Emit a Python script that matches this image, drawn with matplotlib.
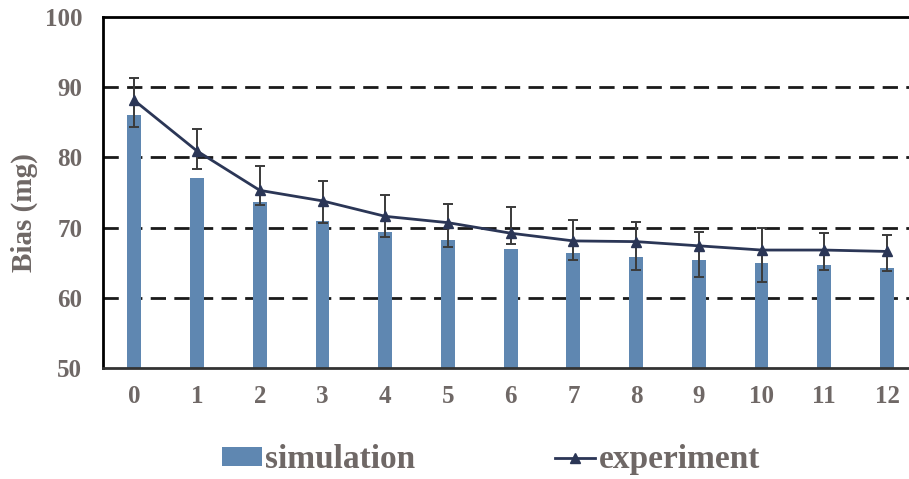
import matplotlib.pyplot as plt
import numpy as np

# data
steps = ['0', '1', '2', '3', '4', '5', '6', '7', '8', '9', '10', '11', '12']
simulation = [86.0, 77.1, 73.7, 71.0, 69.4, 68.2, 66.9, 66.4, 65.8, 65.4, 64.9, 64.6, 64.3]
experiment = [88.1, 80.9, 75.3, 73.8, 71.6, 70.7, 69.2, 68.1, 68.0, 67.4, 66.8, 66.8, 66.6]
err_up = [3.2, 3.2, 3.4, 2.8, 3.1, 2.7, 3.8, 3.0, 2.8, 1.9, 3.1, 2.4, 2.3]
err_down = [3.8, 2.5, 2.1, 3.2, 2.9, 3.4, 1.6, 2.7, 4.0, 4.4, 4.5, 2.8, 2.8]

bar_color = '#5f87b1'
line_color = '#2b3656'
text_color = '#6f6866'
font = 'Liberation Serif'

fig = plt.figure(figsize=(9.09, 4.79), dpi=100)
ax = fig.add_axes([0.1133, 0.2317, 0.897, 0.733])

x = np.arange(len(steps))

# grid lines
for g in [60, 70, 80, 90]:
    ax.axhline(g, color='#1a1a1a', lw=2, linestyle=(0, (5.5, 3)), zorder=1)

ax.bar(x, simulation, width=0.22, color=bar_color, zorder=2, label='simulation')
ax.errorbar(x, experiment, yerr=[err_down, err_up], fmt='none', ecolor='#3a3a3a',
            elinewidth=1.4, capsize=3.6, capthick=1.4, zorder=3)
ax.plot(x, experiment, color=line_color, lw=2, marker='^', markersize=7.5,
        zorder=4, label='experiment')

ax.set_xlim(-0.5, 12.5)
ax.set_ylim(50, 100)
ax.set_yticks([50, 60, 70, 80, 90, 100])
ax.set_xticks(x)
ax.set_xticklabels(steps)
ax.tick_params(length=0, labelsize=18, labelcolor=text_color)
ax.tick_params(axis='x', pad=12)
ax.tick_params(axis='y', pad=15)
for lab in ax.get_xticklabels() + ax.get_yticklabels():
    lab.set_fontfamily(font)
    lab.set_fontweight('bold')

for side in ['left', 'top']:
    ax.spines[side].set_color('black')
    ax.spines[side].set_linewidth(2)
ax.spines['bottom'].set_color('#333333')
ax.spines['bottom'].set_linewidth(2)
ax.spines['right'].set_visible(False)

ax.set_ylabel('Bias (mg)', fontsize=21, fontweight='bold', color=text_color, family=font)
ax.yaxis.set_label_coords(-0.08, 0.444)

h, l = ax.get_legend_handles_labels()
fig.legend(h[::-1], l[::-1], loc='center', bbox_to_anchor=(0.54, 0.04), ncol=2,
           frameon=False, handlelength=1.2, handleheight=0.5, handletextpad=0.1,
           columnspacing=4.2, prop={'family': font, 'weight': 'bold', 'size': 24},
           labelcolor=text_color, markerscale=0.9)

fig.savefig('out.png', dpi=100)
